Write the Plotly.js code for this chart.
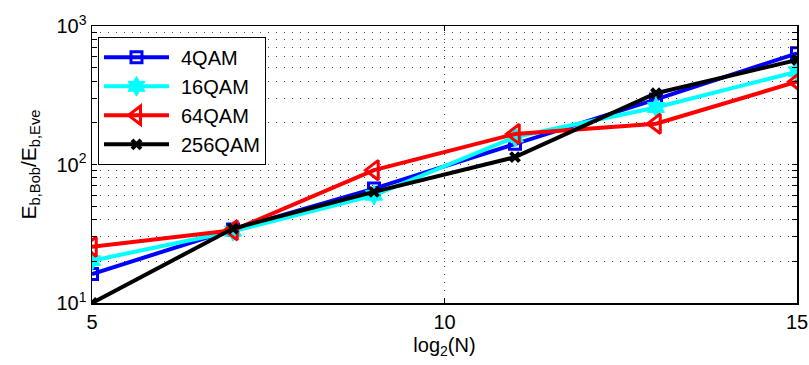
<!DOCTYPE html>
<html>
<head>
<meta charset="utf-8">
<script src="https://cdn.plot.ly/plotly-3.0.1.min.js"></script>
<style>body{margin:0;padding:0;background:#fff}#chart{width:809px;height:365px}</style>
</head>
<body>
<div id="chart"></div>
<script>
const xVals = [5, 7, 9, 11, 13, 15];
const qam4 = [16.2, 34, 67, 141, 295, 635];
const qam16 = [20.2, 33, 60, 158, 258, 468];
const qam64 = [25.5, 33.5, 91, 166, 197, 396];
const qam256 = [10, 34.5, 63.5, 113, 327, 568];
const seriesNames = ['4QAM', '16QAM', '64QAM', '256QAM'];
const yTickVals = [10,20,30,40,50,60,70,80,90,100,200,300,400,500,600,700,800,900,1000];
const yTickText = yTickVals.map(v => v === 10 ? '10<sup>1</sup>' : v === 100 ? '10<sup>2</sup>' : v === 1000 ? '10<sup>3</sup>' : '');
const xTickVals = [5, 10, 15];

const font = 'Liberation Sans, Arial, sans-serif';
function tr(name, y, color, symbol, size, mlw) {
  return {
    x: xVals, y: y, name: name, type: 'scatter', mode: 'lines+markers',
    line: {color: color, width: 4},
    marker: {symbol: symbol, size: size, color: color, line: {color: color, width: mlw}},
    legendgroup: name
  };
}
const data = [
  tr(seriesNames[0], qam4, '#0000ff', 'square-open', 11, 3),
  tr(seriesNames[1], qam16, '#00ffff', 'hexagram', 15, 1),
  tr(seriesNames[2], qam64, '#ff0000', 'triangle-left-open', 17, 3),
  tr(seriesNames[3], qam256, '#000000', 'x-thin-open', 9, 4)
];
const layout = {
  width: 809, height: 365,
  margin: {l: 92, r: 12, t: 26, b: 62},
  paper_bgcolor: '#fff', plot_bgcolor: '#fff',
  font: {family: font, size: 20, color: '#000'},
  showlegend: true,
  legend: {
    x: 0.0085, y: 0.961, xanchor: 'left', yanchor: 'top',
    bgcolor: '#fff', bordercolor: '#000', borderwidth: 1,
    font: {family: font, size: 20, color: '#000'},
    itemwidth: 72, tracegroupgap: 0, traceorder: 'grouped'
  },
  xaxis: {
    range: [5, 15], tickvals: xTickVals, ticktext: xTickVals.map(String),
    ticks: 'inside', ticklen: 5, tickcolor: '#000', mirror: 'ticks',
    showline: true, linecolor: '#000', linewidth: 1.5,
    showgrid: true, gridcolor: '#444', gridwidth: 1, griddash: '1px,7px',
    zeroline: false,
    tickfont: {family: font, size: 20},
    title: {text: 'log<sub>2</sub>(N)', font: {family: font, size: 20}, standoff: 6}
  },
  yaxis: {
    type: 'log', range: [1, 3], tickvals: yTickVals, ticktext: yTickText,
    ticks: 'inside', ticklen: 5, tickcolor: '#000', mirror: 'ticks',
    showline: true, linecolor: '#000', linewidth: 1.5,
    showgrid: true, gridcolor: '#444', gridwidth: 1, griddash: '1px,7px',
    zeroline: false,
    tickfont: {family: font, size: 20},
    title: {text: 'E<sub>b,Bob</sub>/E<sub>b,Eve</sub>', font: {family: font, size: 21}, standoff: 14}
  }
};
Plotly.newPlot('chart', data, layout, {displayModeBar: false, staticPlot: true}).then(gd => {
  // lengthen legend line samples like MATLAB's legend
  gd.querySelectorAll('.legend .traces').forEach(g => {
    g.querySelectorAll('.legendlines path').forEach(p => p.setAttribute('d', 'M5,0h65'));
    g.querySelectorAll('.legendpoints path.scatterpts').forEach(p => {
      p.setAttribute('transform', 'translate(37.5,0)');
    });
  });
});
</script>
</body>
</html>
